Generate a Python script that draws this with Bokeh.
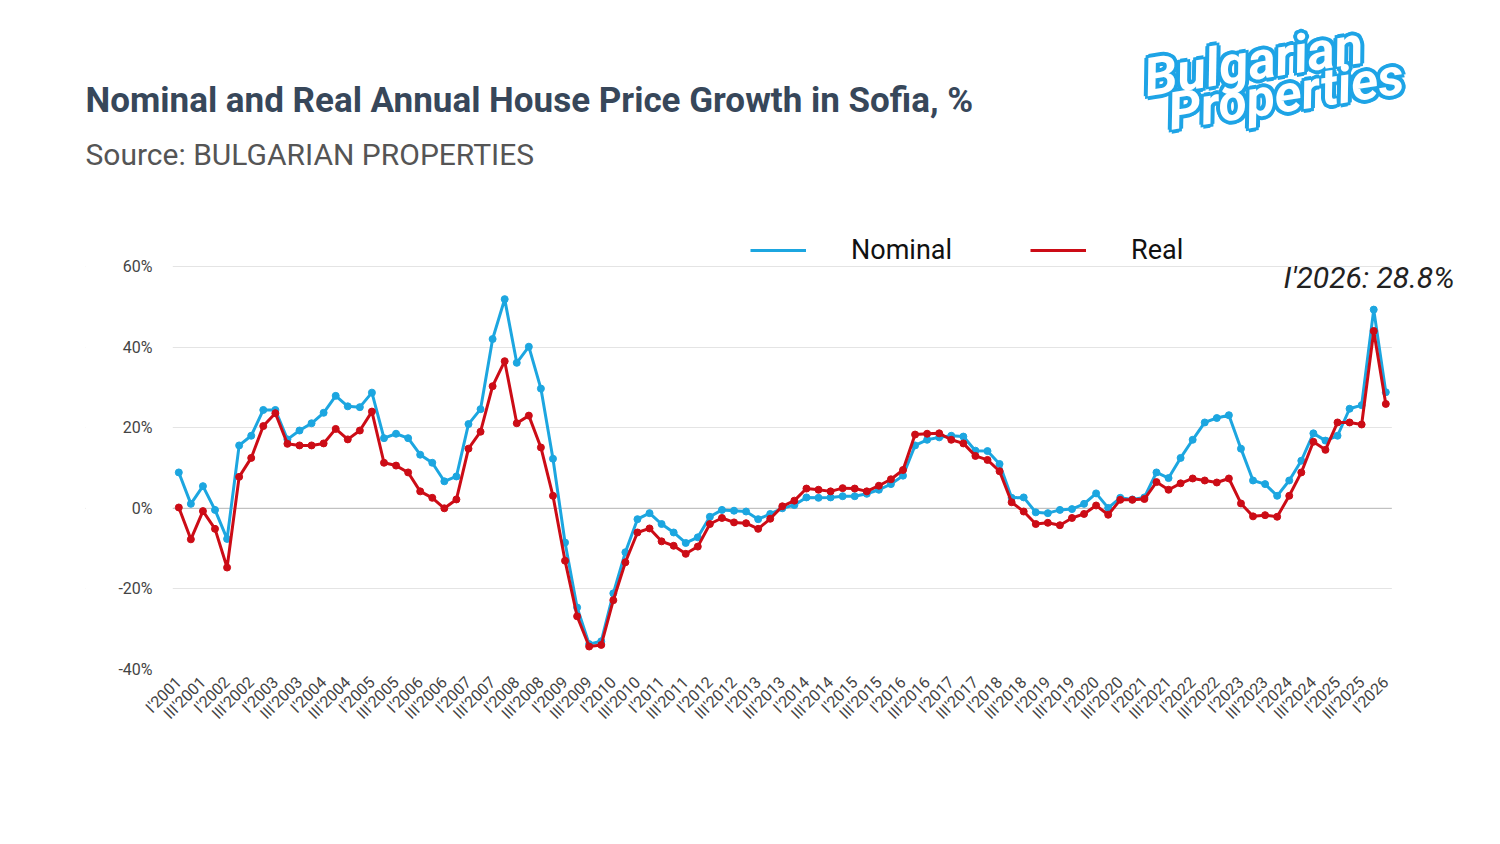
import math
from bokeh.plotting import figure
from bokeh.models import (Range1d, FixedTicker, PrintfTickFormatter, Span, Label,
                          Legend, LegendItem, BoxAnnotation)
from bokeh.embed import file_html
from bokeh.resources import INLINE

# ---------------- data ----------------
years = list(range(2001, 2027))
quarters = [f"{q}'{y}" for y in years for q in ("I", "II", "III", "IV")][:101]

nominal = [
    8.9, 1.1, 5.5, -0.4, -7.6, 15.6, 18.0, 24.4, 24.4, 17.1,
    19.3, 21.1, 23.7, 27.9, 25.3, 25.1, 28.7, 17.4, 18.5, 17.4,
    13.3, 11.3, 6.7, 7.9, 20.9, 24.6, 42.0, 51.9, 36.1, 40.1,
    29.7, 12.3, -8.5, -24.6, -33.7, -33.0, -21.1, -10.9, -2.7, -1.2,
    -3.9, -6.0, -8.6, -7.2, -2.1, -0.4, -0.6, -0.8, -2.7, -1.4,
    0.0, 0.8, 2.7, 2.6, 2.7, 3.0, 3.0, 3.6, 4.6, 6.0,
    8.1, 15.6, 17.0, 17.6, 18.0, 17.8, 14.3, 14.2, 11.0, 2.6,
    2.7, -1.0, -1.2, -0.4, -0.2, 1.1, 3.7, 0.1, 2.6, 2.2,
    2.7, 8.9, 7.5, 12.5, 17.0, 21.3, 22.4, 23.1, 14.8, 6.9,
    6.0, 3.1, 6.9, 11.8, 18.6, 16.8, 18.0, 24.7, 25.6, 49.3,
    28.8,
]
real = [
    0.2, -7.7, -0.7, -5.1, -14.7, 7.8, 12.5, 20.4, 23.6, 16.0,
    15.6, 15.6, 16.1, 19.7, 17.1, 19.3, 24.0, 11.3, 10.6, 8.9,
    4.2, 2.6, 0.0, 2.2, 14.8, 19.0, 30.3, 36.5, 21.1, 23.0,
    15.1, 3.1, -13.0, -26.8, -34.3, -33.9, -22.8, -13.4, -6.0, -5.0,
    -8.2, -9.3, -11.3, -9.5, -3.9, -2.4, -3.5, -3.7, -5.1, -2.6,
    0.5, 1.9, 4.9, 4.6, 4.2, 5.0, 4.9, 4.2, 5.6, 7.2,
    9.5, 18.3, 18.5, 18.6, 17.0, 16.1, 13.0, 12.0, 9.2, 1.5,
    -0.8, -3.9, -3.6, -4.2, -2.4, -1.4, 0.7, -1.6, 2.1, 2.1,
    2.3, 6.5, 4.6, 6.2, 7.4, 6.9, 6.4, 7.4, 1.2, -2.0,
    -1.7, -2.1, 3.1, 8.9, 16.5, 14.5, 21.3, 21.3, 20.8, 44.0,
    25.9,
]
y_ticks = [-40, -20, 0, 20, 40, 60]
series_names = ["Nominal", "Real"]
title_text = "Nominal and Real Annual House Price Growth in Sofia, %"
subtitle_text = "Source: BULGARIAN PROPERTIES"
logo_words = ["Bulgarian", "Properties"]

# ---------------- layout geometry (pixels) ----------------
BLUE = "#1ca6e0"
RED = "#cc0c16"
FONT = "Roboto"

W, H = 1484, 828
FRAME_L, FRAME_R, FRAME_T, FRAME_B = 85, 1484, 0, 669
PX_FIRST, PX_LAST = 178.3, 1385.3      # pixel of first / last quarter
PY_TOP_TICK = 266                       # pixel of the top grid line
n = len(quarters)
ux = (PX_LAST - PX_FIRST) / (n - 1)
uy = (FRAME_B - PY_TOP_TICK) / (y_ticks[-1] - y_ticks[0])
x_lo = -(PX_FIRST - FRAME_L) / ux
x_hi = (FRAME_R - PX_FIRST) / ux
y_lo = y_ticks[0]
y_hi = y_lo + (FRAME_B - FRAME_T) / uy

x = list(range(n))

p = figure(width=W, height=H,
           frame_width=FRAME_R - FRAME_L, frame_height=FRAME_B - FRAME_T,
           min_border_left=FRAME_L, min_border_right=W - FRAME_R,
           min_border_top=FRAME_T, min_border_bottom=H - FRAME_B,
           x_range=Range1d(x_lo, x_hi), y_range=Range1d(y_lo, y_hi),
           output_backend="svg", toolbar_location=None,
           background_fill_color="white", border_fill_color="white")
p.outline_line_color = None

# axes
p.xaxis.ticker = FixedTicker(ticks=x[::2])
p.xaxis.major_label_overrides = {i: quarters[i] for i in x[::2]}
p.xaxis.major_label_orientation = math.pi / 4
p.xaxis.major_label_text_font = FONT
p.xaxis.major_label_text_font_size = "16px"
p.xaxis.major_label_text_color = "#444444"
p.xaxis.major_label_standoff = 4
p.xaxis.axis_line_color = None
p.xaxis.major_tick_line_color = None
p.xaxis.minor_tick_line_color = None

p.yaxis.ticker = FixedTicker(ticks=y_ticks)
p.yaxis.formatter = PrintfTickFormatter(format="%d%%")
p.yaxis.major_label_text_font = FONT
p.yaxis.major_label_text_font_size = "16px"
p.yaxis.major_label_text_color = "#444444"
p.yaxis.major_label_standoff = -(158 - FRAME_L)
p.yaxis.axis_line_color = None
p.yaxis.major_tick_line_color = None
p.yaxis.minor_tick_line_color = None

p.xgrid.grid_line_color = None
p.ygrid.grid_line_color = "#e4e4e4"
p.ygrid.grid_line_width = 1
p.add_layout(Span(location=0, dimension="width", line_color="#b8b8b8",
                  line_width=1, level="underlay"))
# keep grid lines within the data span
for kw in (dict(right=-0.5), dict(left=n - 0.5)):
    p.add_layout(BoxAnnotation(fill_color="white", fill_alpha=1, line_alpha=0,
                               level="glyph", **kw))

# series
ln = p.line(x, nominal, line_color=BLUE, line_width=3)
p.scatter(x, nominal, size=7, fill_color=BLUE, line_color=BLUE)
lr = p.line(x, real, line_color=RED, line_width=3)
p.scatter(x, real, size=7, fill_color=RED, line_color=RED)

# helpers: image pixel -> frame-relative screen units
def sx(ix):
    return ix - FRAME_L
def sy(iy):
    return FRAME_B - iy

# legend
legend = Legend(items=[LegendItem(label=series_names[0], renderers=[ln]),
                       LegendItem(label=series_names[1], renderers=[lr])],
                orientation="horizontal", location=(sx(750), sy(266)),
                glyph_width=56, glyph_height=30, label_height=30,
                label_standoff=45, spacing=78, padding=0, margin=0,
                border_line_color=None, background_fill_alpha=0,
                label_text_font=FONT, label_text_font_size="27px",
                label_text_color="#111111")
p.add_layout(legend, "center")

p.add_layout(Label(x=sx(85), y=sy(100), x_units="screen", y_units="screen",
                   text=title_text, text_font=FONT, text_font_style="bold",
                   text_font_size="35px", text_color="#37475a",
                   text_baseline="alphabetic"))
p.add_layout(Label(x=sx(85), y=sy(154), x_units="screen", y_units="screen",
                   text=subtitle_text, text_font=FONT,
                   text_font_size="30px", text_color="#555555",
                   text_baseline="alphabetic"))

# end-point annotation
p.add_layout(Label(x=sx(1283), y=sy(277), x_units="screen", y_units="screen",
                   text=f"{quarters[-1]}: {nominal[-1]}%", text_font=FONT,
                   text_font_style="italic", text_font_size="30px",
                   text_color="#222222", text_baseline="alphabetic"))

# logo: blue halo (offset copies) + white letters
LOGO_BLUE = "#1ea4e6"
ANG = 0.155
R = 4
offsets = [(R * math.cos(k * math.pi / 4), R * math.sin(k * math.pi / 4)) for k in range(8)]
logo_pos = ((1144, 78), (1168, 112))
logo_fs = ("53px", "52px")
for word, (lx, ly), fs in zip(logo_words, logo_pos, logo_fs):
    for dx, dy in offsets:
        p.add_layout(Label(x=sx(lx) + dx, y=sy(ly) + dy, x_units="screen", y_units="screen",
                           text=word, text_font=FONT, text_font_style="bold italic",
                           text_font_size=fs, text_color=LOGO_BLUE,
                           angle=ANG, text_baseline="alphabetic"))
for word, (lx, ly), fs in zip(logo_words, logo_pos, logo_fs):
    p.add_layout(Label(x=sx(lx), y=sy(ly), x_units="screen", y_units="screen",
                       text=word, text_font=FONT, text_font_style="bold italic",
                       text_font_size=fs, text_color="white",
                       angle=ANG, text_baseline="alphabetic"))

open("out.html", "w").write(file_html(p, INLINE))
